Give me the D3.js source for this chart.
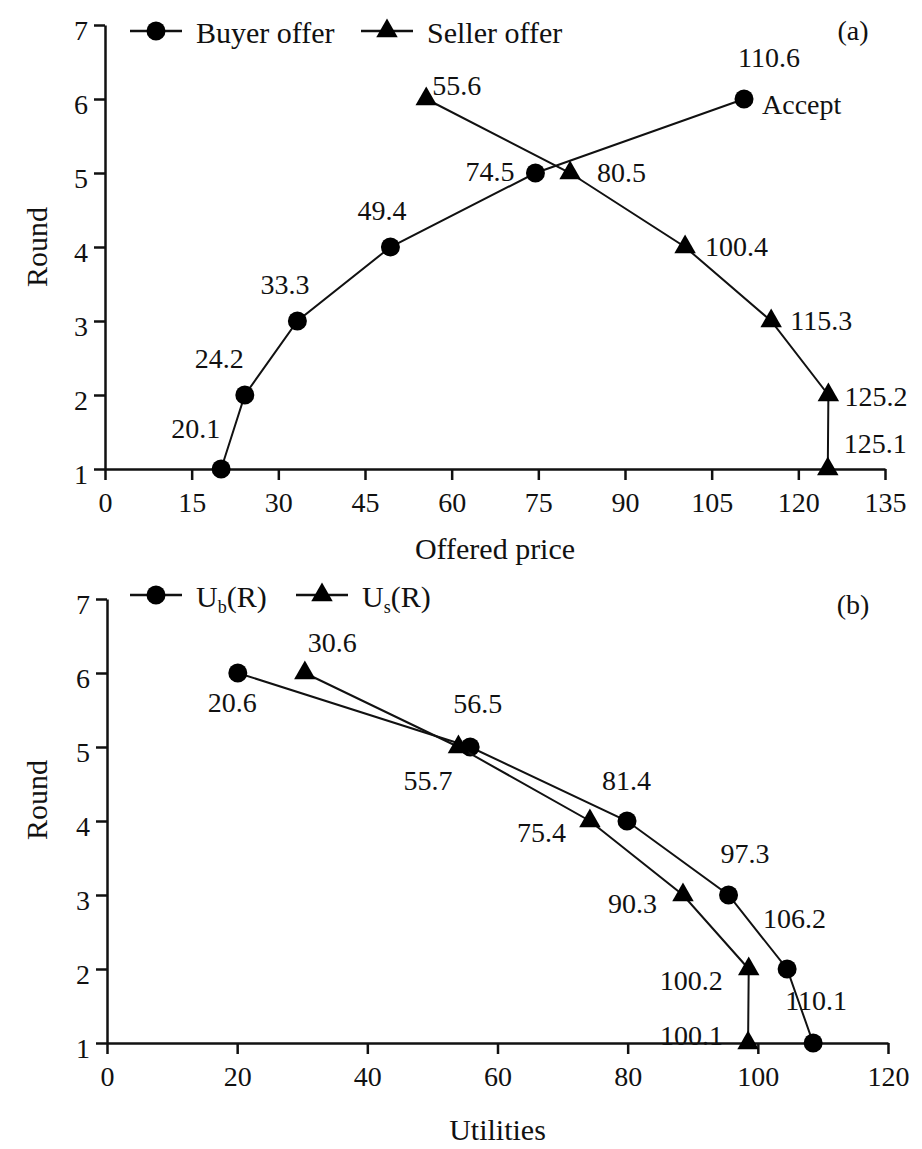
<!DOCTYPE html>
<html>
<head>
<meta charset="utf-8">
<script src="https://cdn.jsdelivr.net/npm/d3@7"></script>
<style>
  html, body { margin: 0; padding: 0; background: #fff; }
  svg text { font-family: "Liberation Serif", Tinos, "Times New Roman", Times, "DejaVu Serif", serif; fill: #111; }
</style>
</head>
<body>
<div id="chart"></div>
<script>
// rounds 1..6
const rounds = [1, 2, 3, 4, 5, 6];
const roundTicks = [1, 2, 3, 4, 5, 6, 7];

// (a) offered price
const buyerOffer = [20.1, 24.2, 33.3, 49.4, 74.5, 110.6];
const sellerOffer = [125.1, 125.2, 115.3, 100.4, 80.5, 55.6];
const priceTicks = [0, 15, 30, 45, 60, 75, 90, 105, 120, 135];

// (b) utilities, as plotted, and the numbers printed beside them
const buyerUtil = [108.5, 104.5, 95.5, 79.9, 55.8, 20.1];
const buyerUtilLabels = ["110.1", "106.2", "97.3", "81.4", "56.5", "20.6"];
const sellerUtil = [98.5, 98.6, 88.5, 74.2, 54.0, 30.4];
const sellerUtilLabels = ["100.1", "100.2", "90.3", "75.4", "55.7", "30.6"];
const utilTicks = [0, 20, 40, 60, 80, 100, 120];

// label offsets (px) from each point, left edge / vertical centre
const offA = {
  buyer: [[-50, -41], [-50, -37], [-37, -37], [-33, -37], [-70, -2], [-6, -42]],
  seller: [[16, -26], [16, 1], [19, -1], [20, -1], [27, -1], [6, -14]],
};
const offB = {
  buyer: [[-28, -43], [-24, -51], [-8, -42], [-25, -41], [-17, -44], [-30, 29]],
  seller: [[-88, -8], [-89, 11], [-75, 8], [-73, 11], [-55, 33], [3, -31]],
};

const fontFamily = '"Liberation Serif", Tinos, "Times New Roman", Times, "DejaVu Serif", serif';
const width = 922;
const height = 1149;
const svg = d3
  .select("#chart")
  .append("svg")
  .attr("width", width)
  .attr("height", height)
  .attr("font-family", fontFamily);

const tickFont = 28;
const titleFont = 30;
const triangle = d3.symbol().type(d3.symbolTriangle).size(200);

const addText = (g, size) =>
  g.append("text").attr("font-family", fontFamily).style("font-size", size + "px");

const drawPanel = (cfg) => {
  const g = svg.append("g");
  const xScale = d3.scaleLinear().domain(cfg.xDomain).range([cfg.left, cfg.right]);
  const yScale = d3.scaleLinear().domain([1, 7]).range([cfg.bottom, cfg.top]);

  // axes
  const xAxis = g
    .append("g")
    .attr("transform", `translate(0, ${cfg.bottom})`)
    .call(
      d3.axisBottom(xScale).tickValues(cfg.xTicks).tickFormat(d3.format("d"))
        .tickSize(11).tickSizeOuter(0).tickPadding(12)
    );
  const yAxis = g
    .append("g")
    .attr("transform", `translate(${cfg.left}, 0)`)
    .call(
      d3.axisLeft(yScale).tickValues(roundTicks).tickFormat(d3.format("d"))
        .tickSize(11).tickSizeOuter(0).tickPadding(6)
    );
  [xAxis, yAxis].forEach((ax) => {
    ax.attr("font-family", fontFamily).attr("font-size", tickFont);
    ax.select(".domain").attr("stroke", "#111").attr("stroke-width", 2.5);
    ax.selectAll(".tick line").attr("stroke", "#111").attr("stroke-width", 2.5);
    ax.selectAll("text").attr("fill", "#111");
  });
  yAxis.selectAll("text").attr("dy", "0.5em");

  // axis titles
  addText(g, titleFont)
    .attr("x", (cfg.left + cfg.right) / 2)
    .attr("y", cfg.xTitleY)
    .attr("text-anchor", "middle")
    .attr("dy", "0.35em")
    .text(cfg.xTitle);
  addText(g, titleFont)
    .attr("transform", `translate(36, ${cfg.yTitleY}) rotate(-90)`)
    .attr("text-anchor", "middle")
    .attr("dy", "0.35em")
    .text("Round");

  // panel tag
  addText(g, tickFont)
    .attr("x", 853)
    .attr("y", cfg.top + 15)
    .attr("text-anchor", "middle")
    .text(cfg.tag);

  const line = d3
    .line()
    .x((d) => xScale(d[0]))
    .y((d) => yScale(d[1]));

  cfg.series.forEach((s) => {
    const pts = rounds.map((r, i) => [s.values[i], r]);
    g.append("path")
      .attr("fill", "none")
      .attr("stroke", "#111")
      .attr("stroke-width", 2)
      .attr("d", line(pts));

    pts.forEach((p, i) => {
      const px = xScale(p[0]);
      const py = yScale(p[1]);
      if (s.shape === "circle") {
        g.append("circle").attr("cx", px).attr("cy", py).attr("r", 9.5).attr("fill", "#000");
      } else {
        g.append("path")
          .attr("d", triangle())
          .attr("transform", `translate(${px}, ${py})`)
          .attr("fill", "#000");
      }
      addText(g, tickFont)
        .attr("x", px + s.offsets[i][0])
        .attr("y", py + s.offsets[i][1])
        .attr("dy", "0.35em")
        .text(s.labels[i]);
    });
  });

  // legend
  const ly = cfg.top + cfg.legendDy;
  cfg.series.forEach((s, i) => {
    const lx = cfg.legendX[i];
    g.append("line")
      .attr("x1", lx)
      .attr("x2", lx + 52)
      .attr("y1", ly)
      .attr("y2", ly)
      .attr("stroke", "#111")
      .attr("stroke-width", 2.5);
    if (s.shape === "circle") {
      g.append("circle").attr("cx", lx + 26).attr("cy", ly).attr("r", 9.5).attr("fill", "#000");
    } else {
      g.append("path")
        .attr("d", triangle())
        .attr("transform", `translate(${lx + 26}, ${ly})`)
        .attr("fill", "#000");
    }
    const t = addText(g, titleFont)
      .attr("x", lx + 66)
      .attr("y", ly + 12);
    if (s.sub) {
      t.append("tspan").text("U");
      t.append("tspan").attr("dy", 6).style("font-size", "18px").text(s.sub);
      t.append("tspan").attr("dy", -6).text("(R)");
    } else {
      t.text(s.name);
    }
  });

  return { xScale, yScale, g };
};

const panelA = drawPanel({
  xDomain: [0, 135],
  xTicks: priceTicks,
  left: 105,
  right: 885,
  top: 25,
  bottom: 469,
  xTitle: "Offered price",
  xTitleY: 548,
  yTitleY: 247,
  tag: "(a)",
  legendDy: 6,
  legendX: [130, 361],
  series: [
    { name: "Buyer offer", shape: "circle", values: buyerOffer, labels: buyerOffer.map(d3.format(".1f")), offsets: offA.buyer },
    { name: "Seller offer", shape: "triangle", values: sellerOffer, labels: sellerOffer.map(d3.format(".1f")), offsets: offA.seller },
  ],
});

// "Accept" note beside the last buyer offer
addText(panelA.g, tickFont)
  .attr("x", panelA.xScale(buyerOffer[5]) + 18)
  .attr("y", panelA.yScale(rounds[5]) + 5)
  .attr("dy", "0.35em")
  .text("Accept");

drawPanel({
  xDomain: [0, 120],
  xTicks: utilTicks,
  left: 107,
  right: 888,
  top: 599,
  bottom: 1043,
  xTitle: "Utilities",
  xTitleY: 1129,
  yTitleY: 800,
  tag: "(b)",
  legendDy: -4,
  legendX: [130, 296],
  series: [
    { name: "Ub(R)", sub: "b", shape: "circle", values: buyerUtil, labels: buyerUtilLabels, offsets: offB.buyer },
    { name: "Us(R)", sub: "s", shape: "triangle", values: sellerUtil, labels: sellerUtilLabels, offsets: offB.seller },
  ],
});
</script>
</body>
</html>
